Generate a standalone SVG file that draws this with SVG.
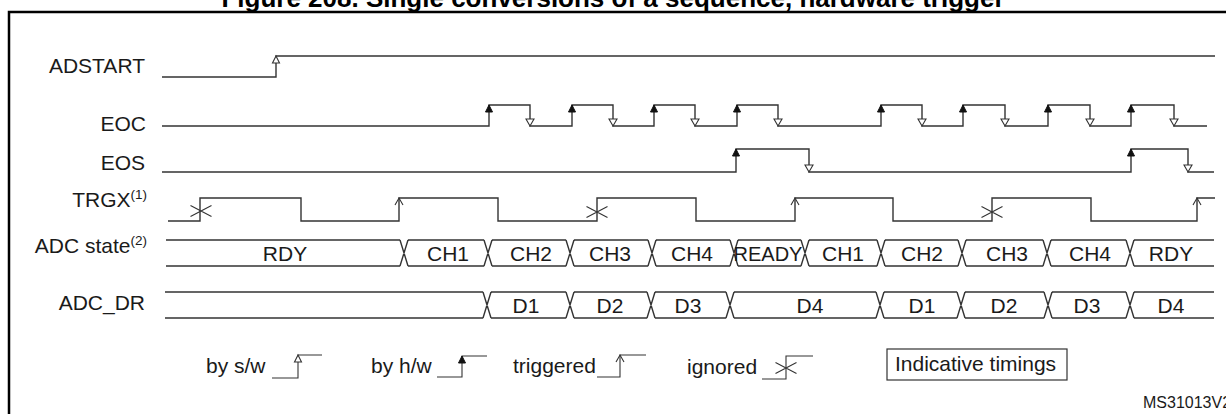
<svg xmlns="http://www.w3.org/2000/svg" width="1226" height="414" viewBox="0 0 1226 414">
<defs>
<style>
text{font-family:"Liberation Sans",Arial,sans-serif;fill:#1a1a1a;}
.lbl{font-size:21px;text-anchor:end;}
.sup{font-size:13.5px;}
.bus{font-size:21px;text-anchor:middle;}
.leg{font-size:21px;}
.sig{fill:none;stroke:#333;stroke-width:1.4;}
.frame{fill:none;stroke:#000;stroke-width:2.5;}
.hol{fill:#fff;stroke:#333;stroke-width:1.1;}
.fil{fill:#111;stroke:#111;stroke-width:1;}
.thin{fill:none;stroke:#333;stroke-width:1.1;}
</style>
<path id="upH" d="M0 0 L-3.5 7 L3.5 7 Z" class="hol"/>
<path id="upF" d="M0 0 L-3.5 7 L3.5 7 Z" class="fil"/>
<path id="dnH" d="M0 0 L-4 -7 L4 -7 Z" class="hol"/>
<path id="chev" d="M-4 7 L0 0 L4 7" class="thin"/>
<path id="ign" d="M-10.5 -5.5 L10.5 5.5 M-10.5 5.5 L10.5 -5.5" class="thin"/>
</defs>
<rect width="1226" height="414" fill="#fff"/>
<text x="613" y="7" text-anchor="middle" style="font-size:26px;font-weight:bold;fill:#000">Figure 208. Single conversions of a sequence, hardware trigger</text>
<rect class="frame" x="9" y="12" width="1240" height="420"/>

<g id="adstart">
<text class="lbl" x="145" y="73">ADSTART</text>
<path class="sig" d="M162 77 H276 V56 H1215"/>
<use href="#upH" x="276" y="56"/>
</g>

<g id="eoc">
<text class="lbl" x="146" y="131">EOC</text>
<path class="sig" d="M162 126 H489 V105 H530 V126 H572 V105 H613 V126 H654 V105 H695 V126 H737 V105 H778 V126 H881 V105 H922 V126 H963 V105 H1005 V126 H1048 V105 H1090 V126 H1131 V105 H1174 V126 H1207"/>
<use href="#upF" x="489" y="105"/><use href="#upF" x="572" y="105"/><use href="#upF" x="654" y="105"/><use href="#upF" x="737" y="105"/>
<use href="#upF" x="881" y="105"/><use href="#upF" x="963" y="105"/><use href="#upF" x="1048" y="105"/><use href="#upF" x="1131" y="105"/>
<use href="#dnH" x="530" y="126"/><use href="#dnH" x="613" y="126"/><use href="#dnH" x="695" y="126"/><use href="#dnH" x="778" y="126"/>
<use href="#dnH" x="922" y="126"/><use href="#dnH" x="1005" y="126"/><use href="#dnH" x="1090" y="126"/><use href="#dnH" x="1174" y="126"/>
</g>

<g id="eos">
<text class="lbl" x="145" y="170">EOS</text>
<path class="sig" d="M162 172 H736 V149 H809 V172 H1131 V149 H1188 V172 H1214"/>
<use href="#upF" x="736" y="149"/><use href="#upF" x="1131" y="149"/>
<use href="#dnH" x="809" y="172"/><use href="#dnH" x="1188" y="172"/>
</g>

<g id="trgx">
<text class="lbl" x="147" y="207">TRGX<tspan class="sup" dy="-8">(1)</tspan></text>
<path class="sig" d="M168 221 H200 V198 H301 V221 H399 V198 H498 V221 H597 V198 H696 V221 H795 V198 H893 V221 H992 V198 H1091 V221 H1197 V198 H1215"/>
<use href="#ign" x="201" y="211"/><use href="#ign" x="597" y="212"/><use href="#ign" x="992" y="212"/>
<use href="#chev" x="399" y="198"/><use href="#chev" x="795" y="198"/><use href="#chev" x="1197" y="198"/>
</g>

<g id="adc-state">
<text class="lbl" x="147" y="253">ADC state<tspan class="sup" dy="-8">(2)</tspan></text>
<path class="sig" d="M166 240H400 M408 240H484 M492 240H566 M574 240H648 M656 240H730 M738 240H801 M809 240H877 M885 240H958 M966 240H1043 M1051 240H1126 M1134 240H1214
M166 266H400 M408 266H484 M492 266H566 M574 266H648 M656 266H730 M738 266H801 M809 266H877 M885 266H958 M966 266H1043 M1051 266H1126 M1134 266H1214
M400 240L408 266M400 266L408 240 M484 240L492 266M484 266L492 240 M566 240L574 266M566 266L574 240 M648 240L656 266M648 266L656 240 M730 240L738 266M730 266L738 240 M801 240L809 266M801 266L809 240 M877 240L885 266M877 266L885 240 M958 240L966 266M958 266L966 240 M1043 240L1051 266M1043 266L1051 240 M1126 240L1134 266M1126 266L1134 240"/>
<text class="bus" x="285" y="261">RDY</text>
<text class="bus" x="448" y="261">CH1</text>
<text class="bus" x="531" y="261">CH2</text>
<text class="bus" x="610" y="261">CH3</text>
<text class="bus" x="692" y="261">CH4</text>
<text class="bus" x="768" y="261" style="font-size:20px">READY</text>
<text class="bus" x="843" y="261">CH1</text>
<text class="bus" x="922" y="261">CH2</text>
<text class="bus" x="1007" y="261">CH3</text>
<text class="bus" x="1090" y="261">CH4</text>
<text class="bus" x="1171" y="261">RDY</text>
</g>

<g id="adc-dr">
<text class="lbl" x="145" y="310">ADC_DR</text>
<path class="sig" d="M165 292H483 M491 292H566 M574 292H647 M655 292H726 M734 292H876 M884 292H957 M965 292H1044 M1052 292H1126 M1134 292H1214
M165 318H483 M491 318H566 M574 318H647 M655 318H726 M734 318H876 M884 318H957 M965 318H1044 M1052 318H1126 M1134 318H1214
M483 292L491 318M483 318L491 292 M566 292L574 318M566 318L574 292 M647 292L655 318M647 318L655 292 M726 292L734 318M726 318L734 292 M876 292L884 318M876 318L884 292 M957 292L965 318M957 318L965 292 M1044 292L1052 318M1044 318L1052 292 M1126 292L1134 318M1126 318L1134 292"/>
<text class="bus" x="526" y="313">D1</text>
<text class="bus" x="610" y="313">D2</text>
<text class="bus" x="688" y="313">D3</text>
<text class="bus" x="810" y="313">D4</text>
<text class="bus" x="922" y="313">D1</text>
<text class="bus" x="1004" y="313">D2</text>
<text class="bus" x="1087" y="313">D3</text>
<text class="bus" x="1171" y="313">D4</text>
</g>

<g id="legend">
<text class="leg" x="206" y="373">by s/w</text>
<path class="thin" d="M272 378 H298 V355 H322"/>
<use href="#upH" x="298" y="355"/>
<text class="leg" x="371" y="373">by h/w</text>
<path class="thin" d="M437 377 H462 V356 H487"/>
<use href="#upF" x="462" y="356"/>
<text class="leg" x="513" y="373">triggered</text>
<path class="thin" d="M597 377 H620 V355 H646"/>
<use href="#chev" x="620" y="355"/>
<text class="leg" x="687" y="374">ignored</text>
<path class="thin" d="M762 379 H786 V356 H813"/>
<use href="#ign" x="786" y="368"/>
</g>

<g id="indicative">
<rect x="887" y="349" width="180" height="31" fill="none" stroke="#333" stroke-width="1.2"/>
<text class="leg" x="895" y="371">Indicative timings</text>
</g>

<text x="1143" y="408" style="font-size:16px">MS31013V2</text>
</svg>
